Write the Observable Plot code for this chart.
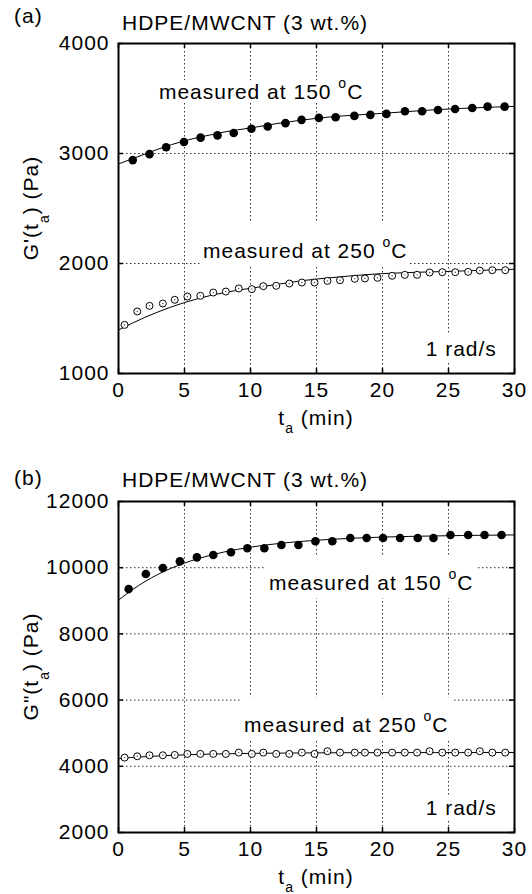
<!DOCTYPE html>
<html><head><meta charset="utf-8">
<script src="https://cdn.jsdelivr.net/npm/d3@7"></script>
<script src="https://cdn.jsdelivr.net/npm/@observablehq/plot@0.6"></script>
<style>
html,body{margin:0;padding:0;background:#fff;}
#chart svg{display:block;}
</style></head><body><div id="chart"></div>
<script>
// ---------- data ----------
const xTicks = [0, 5, 10, 15, 20, 25, 30];
const yTicksA = [1000, 2000, 3000, 4000];
const yTicksB = [2000, 4000, 6000, 8000, 10000, 12000];
const titleText = "HDPE/MWCNT (3 wt.%)";
const panelLetters = ["(a)", "(b)"];
const yLabelsMain = ["G'(t", "G\"(t"];
const xLabelMain = "t";
const subText = "a";
const yLabelTail = ") (Pa)";
const xLabelTail = " (min)";

// (a) G' measured at 150 C (filled)
const a150T = [1.08,2.35,3.61,4.96,6.22,7.5,8.73,10.07,11.3,12.65,13.87,15.18,16.45,17.87,19.08,20.3,21.7,23.0,24.2,25.5,26.8,27.96,29.25];
const a150V = [2940,2994,3057,3105,3144,3165,3186,3225,3246,3276,3306,3324,3330,3342,3351,3360,3384,3384,3396,3405,3414,3426,3426];
// (a) G' measured at 250 C (open)
const a250T = [0.46,1.42,2.35,3.36,4.26,5.22,6.2,7.18,8.13,9.11,10.1,10.97,11.95,12.94,13.89,14.85,15.83,16.78,17.9,18.67,19.62,20.73,21.69,22.62,23.57,24.53,25.51,26.49,27.37,28.32,29.3];
const a250V = [1442,1564,1615,1636,1670,1700,1706,1736,1745,1773,1767,1794,1797,1818,1827,1827,1842,1848,1861,1864,1870,1888,1897,1897,1918,1921,1921,1924,1936,1939,1939];
// fit curves (a)
const fitT = [0,1,2,3,4,5,6,7,8,10,12,14,16,18,20,22,24,26,28,30];
const fitA150 = [2905,2950,2995,3040,3080,3115,3145,3170,3195,3232,3272,3305,3332,3350,3365,3382,3398,3410,3420,3428];
const fitA250 = [1395,1455,1510,1560,1605,1645,1680,1710,1735,1775,1810,1845,1870,1892,1908,1918,1925,1932,1940,1948];

// (b) G'' measured at 150 C (filled)
const b150T = [0.77,2.07,3.36,4.65,5.94,7.18,8.52,9.76,11.05,12.34,13.63,14.92,16.2,17.56,18.8,20.04,21.33,22.67,23.86,25.15,26.49,27.73,29.02];
const b150V = [9354,9808,9990,10192,10313,10384,10465,10586,10586,10687,10687,10798,10798,10899,10899,10899,10899,10899,10899,10990,10990,10990,10990];
// (b) G'' measured at 250 C (open)
const b250T = [0.46,1.42,2.35,3.36,4.26,5.22,6.2,7.18,8.13,9.11,10.1,10.97,11.95,12.94,13.89,14.85,15.83,16.78,17.9,18.67,19.62,20.73,21.69,22.62,23.57,24.53,25.51,26.49,27.37,28.32,29.3];
const b250V = [4263,4303,4333,4333,4343,4374,4374,4374,4374,4414,4374,4414,4374,4374,4414,4374,4455,4414,4414,4414,4414,4414,4414,4414,4455,4414,4414,4414,4455,4414,4414];
// fit curves (b)
const fitB150 = [9020,9320,9580,9800,9985,10140,10270,10380,10475,10620,10725,10800,10855,10895,10925,10945,10960,10972,10982,10990];
const fitB250 = [4232,4265,4290,4312,4330,4345,4358,4368,4377,4390,4398,4404,4408,4411,4413,4414,4415,4415,4416,4416];

// annotations (data coordinates)
const notesA = [
  {x: 3.1, y: 3556, text: "measured at 150 ", sup: "o", tail: "C", anchor: "start"},
  {x: 6.44, y: 2107, text: "measured at 250 ", sup: "o", tail: "C", anchor: "start"},
  {x: 28.7, y: 1218, text: "1 rad/s", anchor: "end"}
];
const boxesA = [
  {x1: 2.9, x2: 19.0, y1: 3465, y2: 3661},
  {x1: 6.2, x2: 22.1, y1: 1965, y2: 2364},
  {x1: 23.3, x2: 29.2, y1: 1094, y2: 1366}
];
const notesB = [
  {x: 11.44, y: 9514, text: "measured at 150 ", sup: "o", tail: "C", anchor: "start"},
  {x: 9.55, y: 5212, text: "measured at 250 ", sup: "o", tail: "C", anchor: "start"},
  {x: 28.7, y: 2717, text: "1 rad/s", anchor: "end"}
];
const boxesB = [
  {x1: 11.14, x2: 27.2, y1: 9069, y2: 10369},
  {x1: 9.3, x2: 25.3, y1: 4758, y2: 6071},
  {x1: 23.3, x2: 29.2, y1: 2333, y2: 3091}
];

// ---------- drawing ----------
const FONT = "'Liberation Sans', Arial, Helvetica, sans-serif";
const FS = 21;
const zip = (t, v) => t.map((d, i) => ({t: d, v: v[i]}));

function panel(o) {
  const W = 532, H = 447, mL = 118, mR = 18;
  const fw = W - mL - mR, fh = H - o.mT - o.mB;
  const grid = {stroke: "#333", strokeOpacity: 1, strokeWidth: 1, strokeDasharray: "1.5,2.5"};
  const chart = Plot.plot({
    width: W, height: H,
    marginLeft: mL, marginRight: mR, marginTop: o.mT, marginBottom: o.mB,
    style: {fontFamily: FONT, fontSize: FS + "px", letterSpacing: "1px", color: "black", background: "white", overflow: "visible"},
    x: {domain: [0, 30], label: null},
    y: {domain: o.yDomain, label: null},
    marks: [
      Plot.gridX(xTicks.slice(1, -1), grid),
      Plot.gridY(o.yTicks.slice(1, -1), grid),
      Plot.rect(o.boxes, {x1: "x1", x2: "x2", y1: "y1", y2: "y2", fill: "white"}),
      Plot.line(zip(fitT, o.fitHot), {x: "t", y: "v", curve: "monotone-x", stroke: "black", strokeWidth: 1}),
      Plot.line(zip(fitT, o.fitCold), {x: "t", y: "v", curve: "monotone-x", stroke: "black", strokeWidth: 1}),
      Plot.dot(zip(o.fT, o.fV), {x: "t", y: "v", r: 4.3, fill: "black", stroke: "none"}),
      Plot.dot(zip(o.oT, o.oV), {x: "t", y: "v", r: 3.5, fill: "white", stroke: "black", strokeWidth: 1}),
      Plot.dot(zip(o.oT, o.oV), {x: "t", y: "v", r: 0.7, fill: "#444", stroke: "none"}),
      Plot.tickX(xTicks, {insetTop: fh - 5, stroke: "black", strokeWidth: 1.5}),
      Plot.tickX(xTicks, {insetBottom: fh - 5, stroke: "black", strokeWidth: 1.5}),
      Plot.tickY(o.yTicks, {insetRight: fw - 5, stroke: "black", strokeWidth: 1.5}),
      Plot.tickY(o.yTicks, {insetLeft: fw - 5, stroke: "black", strokeWidth: 1.5}),
      Plot.frame({stroke: "black", strokeWidth: 2}),
      Plot.axisX(xTicks, {tickSize: 0, tickPadding: 9, label: null, fontSize: FS, tickFormat: d => String(d)}),
      Plot.axisY(o.yTicks, {tickSize: 0, tickPadding: 9, label: null, fontSize: FS, tickFormat: d => String(d)})
    ]
  });
  const svg = d3.select(chart);
  const sx = chart.scale("x"), sy = chart.scale("y");
  const X = v => sx.apply(v), Y = v => sy.apply(v);
  const txt = () => svg.append("text").attr("font-family", FONT).attr("font-size", FS)
    .attr("letter-spacing", "1px").attr("fill", "black").attr("text-anchor", "start");

  // annotations
  o.notes.forEach(n => {
    const t = txt().attr("x", X(n.x)).attr("y", Y(n.y) + 0.32 * FS).attr("text-anchor", n.anchor);
    t.append("tspan").text(n.text);
    if (n.sup) {
      t.append("tspan").attr("font-size", 14).attr("dy", -11).text(n.sup);
      t.append("tspan").attr("dy", 11).text(n.tail);
    }
  });
  // title and panel letter
  txt().attr("x", 122).attr("y", o.titleY).text(titleText);
  txt().attr("x", 14).attr("y", o.letterY).text(o.letter);
  // y label
  const cy = o.mT + fh / 2;
  const yl = txt().attr("text-anchor", "middle").attr("transform", `translate(38,${cy}) rotate(-90)`);
  yl.append("tspan").text(o.yMain);
  yl.append("tspan").attr("font-size", 14).attr("dy", 11).text(subText);
  yl.append("tspan").attr("dy", -11).text(yLabelTail);
  // x label
  const xl = txt().attr("text-anchor", "middle").attr("x", mL + fw / 2).attr("y", o.mT + fh + 52);
  xl.append("tspan").text(xLabelMain);
  xl.append("tspan").attr("font-size", 14).attr("dy", 8).text(subText);
  xl.append("tspan").attr("dy", -8).text(xLabelTail);
  return chart;
}

const root = document.getElementById("chart");
root.appendChild(panel({
  mT: 43, mB: 74, yDomain: [1000, 4000], yTicks: yTicksA,
  fT: a150T, fV: a150V, oT: a250T, oV: a250V, fitHot: fitA150, fitCold: fitA250,
  notes: notesA, boxes: boxesA, letter: panelLetters[0], yMain: yLabelsMain[0],
  titleY: 30, letterY: 23
}));
root.appendChild(panel({
  mT: 54, mB: 62, yDomain: [2000, 12000], yTicks: yTicksB,
  fT: b150T, fV: b150V, oT: b250T, oV: b250V, fitHot: fitB150, fitCold: fitB250,
  notes: notesB, boxes: boxesB, letter: panelLetters[1], yMain: yLabelsMain[1],
  titleY: 40, letterY: 38
}));
</script></body></html>
